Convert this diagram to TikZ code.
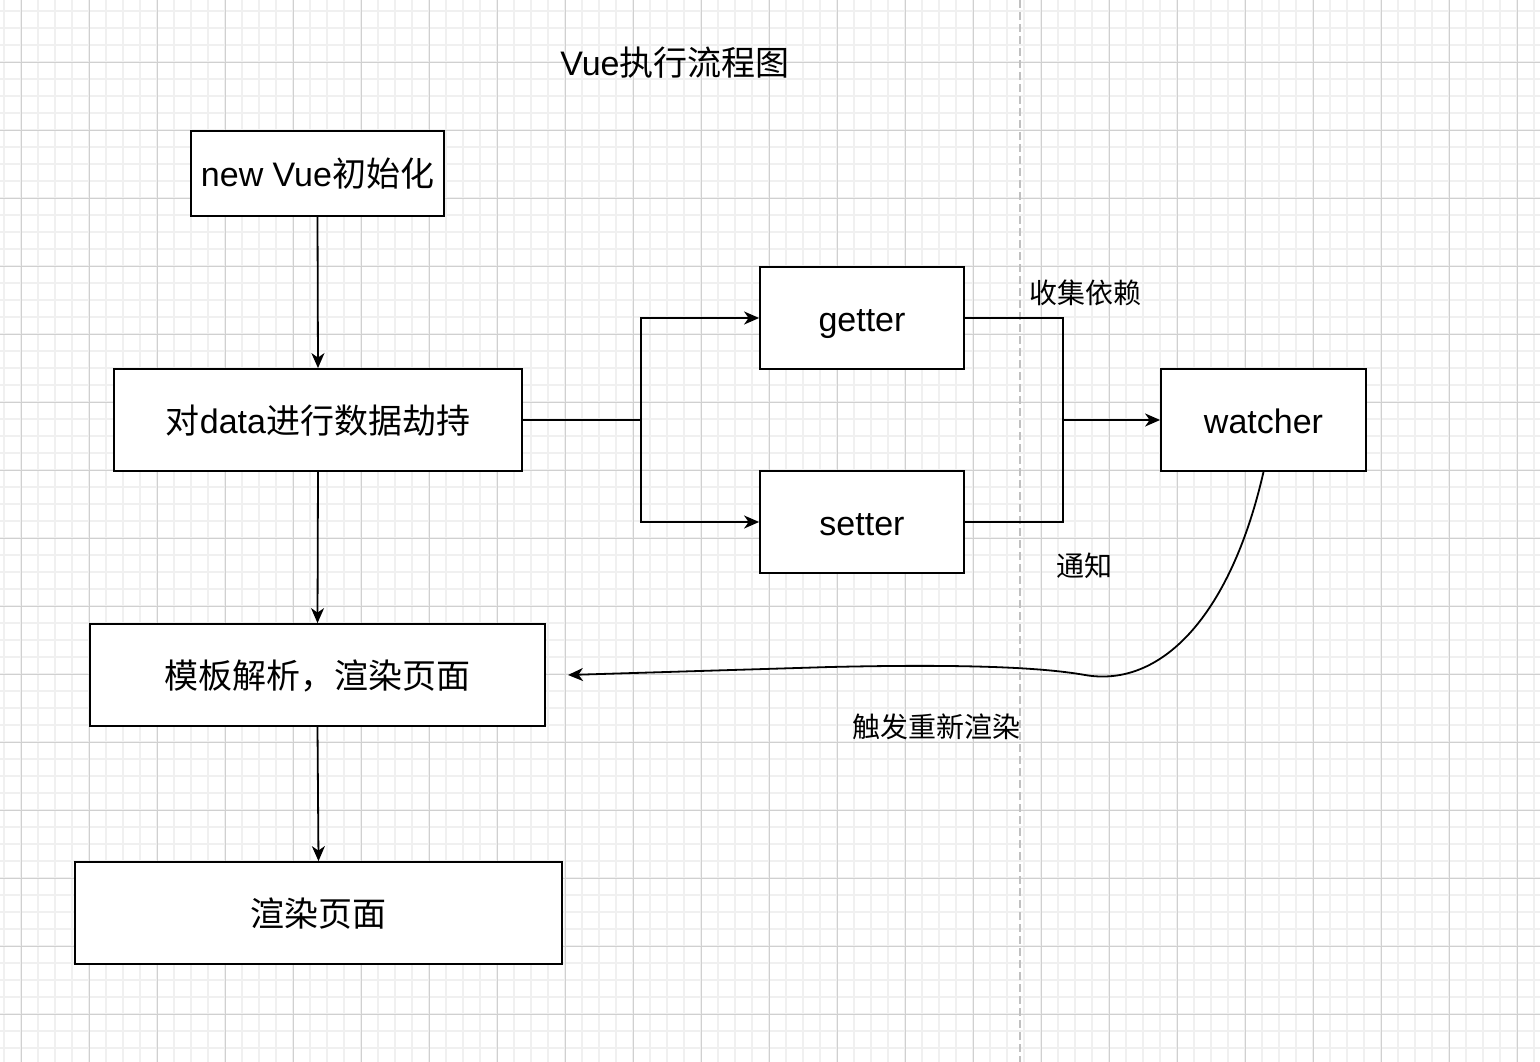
\documentclass[tikz,border=0pt]{standalone}
\usepackage{fontspec}
\setmainfont{Liberation Sans}
\newfontfamily\cjk{Noto Sans CJK SC}
\usetikzlibrary{arrows.meta}
\definecolor{minorgrid}{HTML}{F0F0F0}
\definecolor{majorgrid}{HTML}{D0D0D0}
\definecolor{dashgrey}{HTML}{C0C0C0}
\tikzset{
  box/.style={draw=black, line width=1.8pt, fill=white, inner sep=0pt, text height=30pt, text depth=4pt, font=\fontsize{34}{40}\selectfont},
  lbl/.style={inner sep=0pt, font=\fontsize{28}{32}\selectfont\cjk},
  conn/.style={line width=1.8pt, draw=black},
  arr/.style={conn, -{Stealth[length=15pt,width=13pt,inset=4.5pt]}}
}
\begin{document}
\begin{tikzpicture}[x=1pt,y=-1pt]
\useasboundingbox (0,0) rectangle (1540,1062);
\fill[white] (0,0) rectangle (1540,1062);
% grid
\foreach \x in {4,21,...,1540} \draw[minorgrid, line width=1.2pt] (\x,0) -- (\x,1062);
\foreach \y in {11,28,...,1062} \draw[minorgrid, line width=1.2pt] (0,\y) -- (1540,\y);
\foreach \x in {21,89,...,1540} \draw[majorgrid, line width=0.9pt] (\x,0) -- (\x,1062);
\foreach \y in {62,130,...,1062} \draw[majorgrid, line width=0.9pt] (0,\y) -- (1540,\y);
\draw[dashgrey, line width=1.8pt, dash pattern=on 8pt off 4pt] (1020,0) -- (1020,1062);
% title
\node[inner sep=0pt, font=\fontsize{34}{40}\selectfont] (title) at (675,63) {Vue{\cjk 执行流程图}};
% boxes
\node[box, minimum width=253pt, minimum height=85pt] (nv) at (317.5,173.5) {new Vue{\cjk 初始化}};
\node[box, minimum width=408pt, minimum height=102pt] (hj) at (318,420) {{\cjk 对}data{\cjk 进行数据劫持}};
\node[box, minimum width=455pt, minimum height=102pt] (mb) at (317.5,675) {\cjk 模板解析，渲染页面};
\node[box, minimum width=487pt, minimum height=102pt] (xr) at (318.5,913) {\cjk 渲染页面};
\node[box, minimum width=204pt, minimum height=102pt] (get) at (862,318) {getter};
\node[box, minimum width=204pt, minimum height=102pt] (set) at (862,522) {setter};
\node[box, minimum width=205pt, minimum height=102pt] (wt) at (1263.5,420) {watcher};
% labels
\node[lbl] (l1) at (1085,293) {收集依赖};
\node[lbl] (l2) at (1084,566) {通知};
\node[lbl] (l3) at (936,727) {触发重新渲染};
% junctions
\coordinate (j1) at (641,420);
\coordinate (j2) at (1063,420);
\coordinate (rt) at (568,675);
% connectors
\draw[arr] (nv.south) -- (hj.north);
\draw[arr] (hj.south) -- (mb.north);
\draw[arr] (mb.south) -- (xr.north);
\draw[conn] (hj.east) -- (j1);
\draw[arr] (j1) |- (get.west);
\draw[arr] (j1) |- (set.west);
\draw[conn] (get.east) -| (j2);
\draw[conn] (set.east) -| (j2);
\draw[arr] (j2) -- (wt.west);
\draw[arr] (wt.south) .. controls (1230,618) and (1160,688) .. (1085,675)
  .. controls (1040,667) and (960,664) .. (830,667) -- (rt);
\end{tikzpicture}
\end{document}
